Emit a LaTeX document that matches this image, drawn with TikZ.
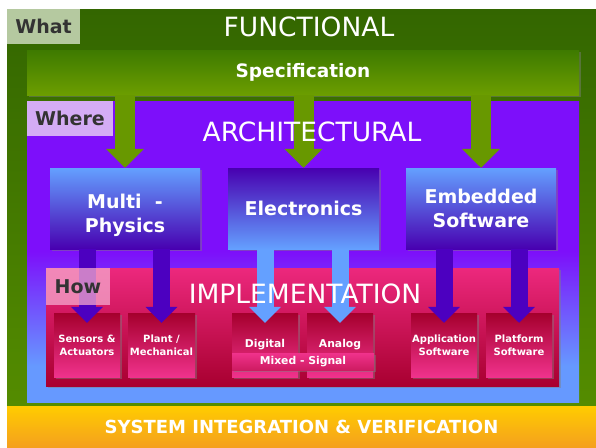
\documentclass[tikz,border=0pt]{standalone}
\usepackage{fontspec}
\setmainfont{DejaVu Sans}
\usepackage{tikz}
\usetikzlibrary{arrows.meta}
\usetikzlibrary{shadows}

\definecolor{whatgray}{RGB}{181,201,160}
\definecolor{txtgray}{RGB}{51,51,51}
\definecolor{funcdark}{RGB}{51,102,0}
\definecolor{funclight}{RGB}{84,140,0}
\definecolor{specdark}{RGB}{62,122,0}
\definecolor{speclight}{RGB}{108,158,0}
\definecolor{arrowgreen}{RGB}{104,152,0}
\definecolor{archpurple}{RGB}{125,15,250}
\definecolor{archblue}{RGB}{102,153,255}
\definecolor{wherelav}{RGB}{212,172,245}
\definecolor{blockpurple}{RGB}{72,0,176}
\definecolor{blockblue}{RGB}{100,160,255}
\definecolor{connpurple}{RGB}{76,0,192}
\definecolor{implpink}{RGB}{236,40,125}
\definecolor{implred}{RGB}{168,0,48}
\definecolor{howpink}{RGB}{245,168,205}
\definecolor{subpink}{RGB}{240,50,140}
\definecolor{subred}{RGB}{165,0,45}
\definecolor{sysyellow}{RGB}{255,204,0}
\definecolor{sysorange}{RGB}{245,160,30}

\pgfdeclareverticalshading{archshade}{100bp}{color(0bp)=(archblue); color(31bp)=(archblue); color(50bp)=(archpurple); color(100bp)=(archpurple)}

\begin{document}
\begin{tikzpicture}[x=1pt, y=-1pt,
  region/.style={rectangle, inner sep=0pt, minimum width=#1},
  tag/.style={rectangle, inner sep=0pt, text=txtgray, font=\fontsize{19}{22}\selectfont\bfseries},
  title/.style={text=white, inner sep=0pt, font=\fontsize{26.5}{30}\selectfont},
  boxshadow/.style={drop shadow={opacity=0.45, shadow xshift=2pt, shadow yshift=-2pt}},
  upblock/.style={region=150pt, minimum height=81pt, boxshadow, top color=blockblue, middle color=blockpurple, bottom color=blockpurple, text=white, align=center, font=\fontsize{19}{24}\selectfont\bfseries},
  downblock/.style={upblock, top color=blockpurple, middle color=blockpurple, bottom color=blockblue},
  subbox/.style={region=66pt, minimum height=64pt, boxshadow, top color=subred, middle color=subred, bottom color=subpink, text=white, align=center, font=\fontsize{10}{13}\selectfont\bfseries},
  greenarrow/.style={line width=20pt, arrowgreen, -{Triangle[width=37pt,length=19pt]}},
  purplearrow/.style={line width=17pt, connpurple, -{Triangle[width=31pt,length=16pt]}},
  bluearrow/.style={purplearrow, blockblue}]

\fill[white] (0,0) rectangle (596,447);
\useasboundingbox (0,0) rectangle (596,447);

\node [region=589pt, minimum height=397pt, top color=funcdark, bottom color=funclight] (func) at (301.5,207.5) {};
\node [region=589pt, minimum height=41pt, top color=sysyellow, middle color=sysyellow!60!sysorange, bottom color=sysorange, text=white, font=\fontsize{18}{20}\selectfont\bfseries] (sysint) at (301.5,426.5) {SYSTEM INTEGRATION \& VERIFICATION};
\node [tag, fill=whatgray, minimum width=73pt, minimum height=35pt] (what) at (43.5,26.5) {What};
\node [title] (functxt) at (309,27) {FUNCTIONAL};

\node [region=552pt, minimum height=301pt, shading=archshade] (arch) at (303,251.5) {};
\node [region=552pt, minimum height=45pt, boxshadow, top color=specdark, bottom color=speclight, text=white, font=\fontsize{18.5}{22}\selectfont\bfseries] (spec) at (303,72.5) {Specification};
\node [tag, fill=wherelav, minimum width=86pt, minimum height=35pt] (where) at (70,118.5) {Where};

\node [upblock, text height=52pt] (mp) at (125,208.5) {Multi \ -\\Physics};
\node [downblock, minimum width=151pt] (el) at (303.5,208.5) {Electronics};
\node [upblock] (es) at (481,208.5) {Embedded\\Software};

\draw[greenarrow] (spec.south -| mp) -- (mp.north);
\draw[greenarrow] (spec.south -| el) -- (el.north);
\draw[greenarrow] (spec.south -| es) -- (es.north);
\node [title] (archtxt) at (312,132) {ARCHITECTURAL};

\node [region=513pt, minimum height=118pt, boxshadow, top color=implpink, middle color=implred, bottom color=implred] (impl) at (302.5,327) {};

\node [subbox] (sens) at (87,345) {Sensors \&\\Actuators};
\node [subbox, minimum width=67pt] (plant) at (161.5,345) {Plant /\\Mechanical};
\node [subbox, font=\fontsize{10.8}{13}\selectfont\bfseries] (dig) at (265,345) {Digital};
\node [subbox, font=\fontsize{10.8}{13}\selectfont\bfseries] (ana) at (340,345) {Analog};
\node [region=142pt, minimum height=17pt, boxshadow, top color=subpink, bottom color=subpink!55!subred, text=white, font=\fontsize{10.8}{13}\selectfont\bfseries] (mixed) at (303,361.5) {Mixed - Signal};
\node [subbox] (app) at (444,345) {Application\\Software};
\node [subbox] (plat) at (519,345) {Platform\\Software};

\draw[purplearrow] (mp.south -| sens) -- ([yshift=-10pt]sens.north);
\draw[purplearrow] (mp.south -| plant) -- ([yshift=-10pt]plant.north);
\draw[bluearrow] (el.south -| dig) -- ([yshift=-10pt]dig.north);
\draw[bluearrow] (el.south -| ana) -- ([yshift=-10pt]ana.north);
\draw[purplearrow] (es.south -| app) -- ([yshift=-10pt]app.north);
\draw[purplearrow] (es.south -| plat) -- ([yshift=-10pt]plat.north);

\node [tag, fill=howpink, fill opacity=0.75, text opacity=1, minimum width=64pt, minimum height=37pt] (how) at (78,286.5) {How};
\node [title] (impltxt) at (305,294) {IMPLEMENTATION};

\end{tikzpicture}
\end{document}
